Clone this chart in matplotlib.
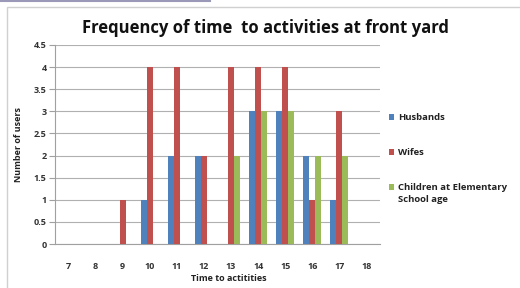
import matplotlib
matplotlib.use("Agg")
import matplotlib.pyplot as plt
from matplotlib.patches import Rectangle
import numpy as np

categories = ["7", "8", "9", "10", "11", "12", "13", "14", "15", "16", "17", "18"]
husbands = [0, 0, 0, 1, 2, 2, 0, 3, 3, 2, 1, 0]
wifes = [0, 0, 1, 4, 4, 2, 4, 4, 4, 1, 3, 0]
children = [0, 0, 0, 0, 0, 0, 2, 3, 3, 2, 2, 0]
series_names = ["Husbands", "Wifes", "Children at Elementary"]
children_label_line2 = "School age"
colors = ["#4F81BD", "#C0504D", "#9BBB59"]
yticks = [0, 0.5, 1, 1.5, 2, 2.5, 3, 3.5, 4, 4.5]
ytick_labels = ["0", "0.5", "1", "1.5", "2", "2.5", "3", "3.5", "4", "4.5"]

plt.rcParams['font.family'] = ['Open Sans', 'DejaVu Sans']

W, H = 520, 288
fig = plt.figure(figsize=(W / 100, H / 100), dpi=100)
fig.patch.set_facecolor("white")

# chart border
fig.add_artist(Rectangle((7 / W, -0.1), 1.2, (H - 7) / H + 0.1, transform=fig.transFigure,
                         fill=False, edgecolor="#D0D0D0", linewidth=1.0))
fig.add_artist(plt.Line2D([0, 210 / W], [1 - 0.5 / H, 1 - 0.5 / H], transform=fig.transFigure,
                          color="#9A9AB8", linewidth=1.5))

ax = fig.add_axes([55 / W, 1 - 244 / H, (380 - 55) / W, (244 - 45) / H])
x = np.arange(len(categories))
bw = 0.22
for i, (vals, name, c) in enumerate(zip([husbands, wifes, children], series_names, colors)):
    ax.bar(x + (i - 1) * bw, vals, width=bw, color=c, label=name, zorder=3)

ax.set_xlim(-0.5, len(categories) - 0.5)
ax.set_ylim(0, 4.5)
ax.set_yticks(yticks)
ax.set_yticklabels(ytick_labels)
ax.set_xticks(x)
ax.set_xticklabels(categories)
ax.yaxis.grid(True, color="#B0B0B0", linewidth=0.8, zorder=0)
ax.set_axisbelow(True)
for s in ["top", "right"]:
    ax.spines[s].set_visible(False)
for s in ["left", "bottom"]:
    ax.spines[s].set_color("#A0A0A0")
    ax.spines[s].set_linewidth(0.8)
ax.tick_params(axis="y", length=4, color="#A0A0A0", labelsize=6.5, pad=2)
ax.tick_params(axis="x", length=0, labelsize=6.5, pad=13)
for lab in ax.get_xticklabels() + ax.get_yticklabels():
    lab.set_fontweight("bold")
    lab.set_color("#333333")

ax.set_ylabel("Number of users", fontsize=6.5, fontweight="bold", labelpad=8, color="#222222")
ax.set_xlabel("Time to actitities", fontsize=6.5, fontweight="bold", labelpad=2, color="#222222")
ax.xaxis.set_label_coords((229 - 55) / (380 - 55), -0.15)

fig.text(265 / W, 1 - 28 / H, "Frequency of time  to activities at front yard", ha="center", va="center",
         fontsize=12, fontweight="bold", color="#111111")

leg = ax.legend(loc="upper left", bbox_to_anchor=(380 / W, 1 - 105 / H), bbox_transform=fig.transFigure,
                frameon=False, handlelength=0.6, handleheight=0.6, handletextpad=0.4,
                labelspacing=2.75, prop={"weight": "bold", "size": 6.8})
for t in leg.get_texts():
    t.set_color("#222222")

fig.canvas.draw()
bb = leg.get_texts()[2].get_window_extent()
fig.text(bb.x0 / W, (bb.y0 - 12) / H, children_label_line2, ha="left", va="bottom",
         fontsize=6.8, fontweight="bold", color="#222222")

fig.savefig("out.png", dpi=100, facecolor="white")
